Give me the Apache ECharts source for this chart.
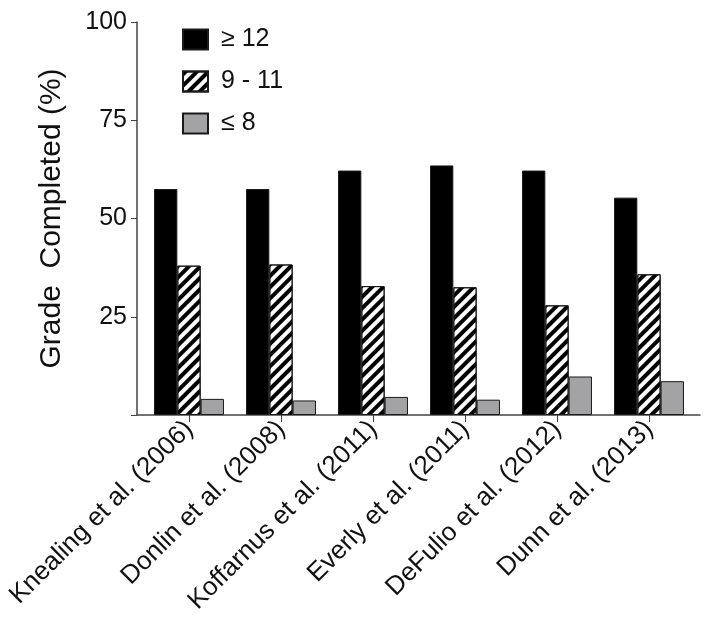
<!DOCTYPE html>
<html><head><meta charset="utf-8">
<script src="https://cdn.jsdelivr.net/npm/echarts@6/dist/echarts.min.js"></script>
<style>html,body{margin:0;padding:0;background:#fff}#c{width:706px;height:628px}</style>
</head><body><div id="c"></div>
<script>
const categories = ['Knealing et al. (2006)','Donlin et al. (2008)','Koffarnus et al. (2011)','Everly et al. (2011)','DeFulio et al. (2012)','Dunn et al. (2013)'];
const seriesNames = ['\u2265 12','9 - 11','\u2264 8'];
const grade12 = [57.5, 57.5, 62.2, 63.5, 62.2, 55.3];
const grade9to11 = [38.0, 38.3, 32.8, 32.5, 27.9, 35.8];
const grade8 = [4.1, 3.7, 4.6, 3.9, 9.8, 8.6];
const yTicks = [0, 25, 50, 75, 100];

const FONT = 'Liberation Sans, Arial, sans-serif';
const chart = echarts.init(document.getElementById('c'), null, {renderer:'canvas'});
const border = {borderColor:'#1a1a1a', borderWidth:1};
chart.setOption({
  animation:false,
  backgroundColor:'#fff',
  legend:{
    orient:'vertical', left:182, top:27, itemWidth:25, itemHeight:20, itemGap:17,
    padding:0, icon:'rect',
    textStyle:{fontFamily:FONT, fontSize:25, color:'#111', padding:[0,0,0,8]},
    data:seriesNames
  },
  grid:[
    {left:143, right:11, top:22, bottom:213},
    {left:137, right:6, top:22, bottom:213}
  ],
  xAxis:[{
    type:'category', data:categories, gridIndex:0,
    axisLine:{show:false},
    axisTick:{show:true, alignWithLabel:true, length:7, lineStyle:{color:'#444', width:1}},
    axisLabel:{interval:0, rotate:45, fontFamily:FONT, fontSize:26, color:'#111', margin:10}
  },{
    type:'category', data:[], gridIndex:1,
    axisLine:{show:true, lineStyle:{color:'#444', width:1.5}},
    axisTick:{show:false}, axisLabel:{show:false}
  }],
  yAxis:[{
    type:'value', min:yTicks[0], max:yTicks[yTicks.length-1], interval:25, gridIndex:0,
    offset:6,
    name:'Grade  Completed (%)', nameLocation:'middle', nameGap:70,
    nameTextStyle:{fontFamily:FONT, fontSize:30, color:'#111'},
    axisLine:{show:true, lineStyle:{color:'#444', width:1.5}},
    axisTick:{show:true, length:6, lineStyle:{color:'#444'}},
    axisLabel:{fontFamily:FONT, fontSize:25, color:'#111', margin:10,
      formatter:v => v === 0 ? '' : String(v)},
    splitLine:{show:false}
  },{
    type:'value', gridIndex:1, show:false, min:0, max:100
  }],
  series:[
    {name:seriesNames[0], type:'bar', data:grade12, barCategoryGap:'24%', barGap:'0%',
      itemStyle:Object.assign({color:'#000'}, border)},
    {name:seriesNames[1], type:'bar', data:grade9to11, barCategoryGap:'24%', barGap:'0%',
      itemStyle:Object.assign({color:'#fff',
        decal:{symbol:'rect', color:'#000', dashArrayX:[1,0], dashArrayY:[3.3,3.3], rotation:-Math.PI/4, symbolSize:1}
      }, border)},
    {name:seriesNames[2], type:'bar', data:grade8, barCategoryGap:'24%', barGap:'0%',
      itemStyle:Object.assign({color:'#a3a3a6'}, border)}
  ]
});
</script></body></html>
